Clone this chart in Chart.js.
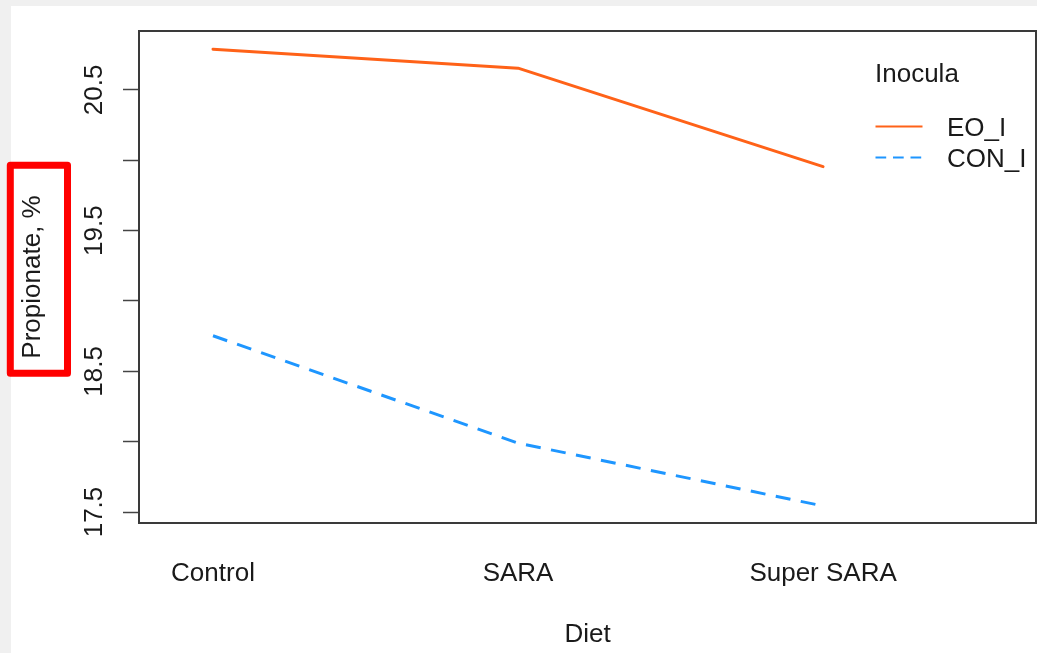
<!DOCTYPE html>
<html>
<head>
<meta charset="utf-8">
<script src="https://cdn.jsdelivr.net/npm/chart.js@4/dist/chart.umd.min.js"></script>
<style>
  html, body { margin: 0; padding: 0; background: #f0f0f0; }
  canvas { display: block; }
</style>
</head>
<body>
<canvas id="chart" width="1037" height="653"></canvas>
<script>
// Propionate (%) by diet for each inoculum
const diets = ['Control', 'SARA', 'Super SARA'];
const seriesNames = ['EO_I', 'CON_I'];
const eoI = [20.79, 20.655, 19.955];
const conI = [18.753, 17.99, 17.543];
const yTickValues = [17.5, 18, 18.5, 19, 19.5, 20, 20.5];
const yTickLabels = ['17.5', '', '18.5', '', '19.5', '', '20.5'];

const FONT = '"Liberation Sans", Arial, Helvetica, sans-serif';
const TEXT = '#1a1a1a';
const ORANGE = '#FF6218';
const BLUE = '#1E96FF';

const toPoints = vals => vals.map((v, i) => ({ x: i + 1, y: v }));

const pagePlugin = {
  id: 'page',
  beforeDraw(chart) {
    const ctx = chart.ctx;
    ctx.save();
    ctx.fillStyle = '#f0f0f0';
    ctx.fillRect(0, 0, chart.width, chart.height);
    ctx.fillStyle = '#ffffff';
    ctx.fillRect(11, 6, chart.width - 11, chart.height - 6);
    ctx.restore();
  },
  afterDraw(chart) {
    const ctx = chart.ctx;
    const a = chart.chartArea;
    ctx.save();
    // plot frame
    ctx.strokeStyle = '#3a3a3a';
    ctx.lineWidth = 2;
    ctx.strokeRect(a.left, a.top, a.right - a.left, a.bottom - a.top);

    // legend
    ctx.fillStyle = TEXT;
    ctx.font = '26px ' + FONT;
    ctx.textAlign = 'left';
    ctx.textBaseline = 'alphabetic';
    ctx.fillText('Inocula', 875, 82);
    const rows = [
      { name: seriesNames[0], color: ORANGE, dash: [], y: 126.5 },
      { name: seriesNames[1], color: BLUE, dash: [10.7, 6.8], y: 157.5 }
    ];
    rows.forEach(r => {
      ctx.beginPath();
      ctx.setLineDash(r.dash);
      ctx.strokeStyle = r.color;
      ctx.lineWidth = 2;
      ctx.lineCap = 'butt';
      ctx.moveTo(875.5, r.y);
      ctx.lineTo(922.5, r.y);
      ctx.stroke();
      ctx.setLineDash([]);
      ctx.fillStyle = TEXT;
      ctx.fillText(r.name, 947, r.y + 9.3);
    });

    // highlight box around the y-axis title
    ctx.strokeStyle = '#ff0000';
    ctx.lineWidth = 7;
    ctx.lineJoin = 'round';
    ctx.strokeRect(10.3, 165.3, 57.2, 208);
    ctx.restore();
  }
};

new Chart(document.getElementById('chart'), {
  type: 'line',
  data: {
    datasets: [
      {
        label: seriesNames[0],
        data: toPoints(eoI),
        borderColor: ORANGE,
        borderWidth: 3,
        borderCapStyle: 'round',
        borderJoinStyle: 'round',
        pointRadius: 0,
        tension: 0,
        fill: false
      },
      {
        label: seriesNames[1],
        data: toPoints(conI),
        borderColor: BLUE,
        borderWidth: 3,
        borderDash: [15, 10.5],
        borderCapStyle: 'butt',
        borderJoinStyle: 'round',
        pointRadius: 0,
        tension: 0,
        fill: false
      }
    ]
  },
  options: {
    responsive: false,
    animation: false,
    layout: { padding: { top: 31, right: 1, left: 0, bottom: 0 } },
    plugins: {
      legend: { display: false },
      title: { display: false },
      tooltip: { enabled: false }
    },
    scales: {
      x: {
        type: 'linear',
        min: 0.7574,
        max: 3.698,
        afterBuildTicks: s => { s.ticks = diets.map((d, i) => ({ value: i + 1 })); },
        afterFit: s => { s.height = 130; },
        grid: { display: false },
        border: { display: false },
        ticks: {
          autoSkip: false,
          maxRotation: 0,
          minRotation: 0,
          padding: 27,
          color: TEXT,
          font: { family: FONT, size: 26 },
          callback: v => diets[Math.round(v) - 1]
        },
        title: {
          display: true,
          text: 'Diet',
          color: TEXT,
          font: { family: FONT, size: 26 },
          padding: { top: 0, bottom: 3 }
        }
      },
      y: {
        type: 'linear',
        min: 17.422,
        max: 20.919,
        afterBuildTicks: s => { s.ticks = yTickValues.map(v => ({ value: v })); },
        afterFit: s => { s.width = 139; },
        grid: {
          display: true,
          drawOnChartArea: false,
          drawTicks: true,
          tickLength: 16,
          tickColor: '#444444',
          tickWidth: 1.5,
          color: '#444444'
        },
        border: { display: false },
        ticks: {
          autoSkip: false,
          minRotation: 90,
          maxRotation: 90,
          crossAlign: 'center',
          padding: 3,
          color: TEXT,
          font: { family: FONT, size: 26 },
          callback: (v, i) => yTickLabels[yTickValues.indexOf(v)] ?? ''
        },
        title: {
          display: true,
          text: 'Propionate, %',
          color: TEXT,
          font: { family: FONT, size: 26 },
          padding: { top: 17, bottom: 0 }
        }
      }
    }
  },
  plugins: [pagePlugin]
});
</script>
</body>
</html>
